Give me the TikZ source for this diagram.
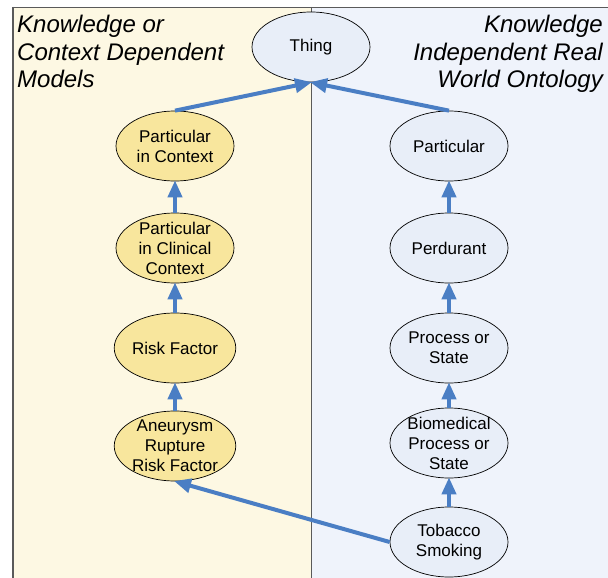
\documentclass[tikz,border=0pt]{standalone}
\usepackage{fontspec}
\setmainfont{Liberation Sans}
\usetikzlibrary{shapes.geometric,arrows.meta}
\definecolor{leftbg}{RGB}{253,248,227}
\definecolor{rightbg}{RGB}{239,243,251}
\definecolor{yelfill}{RGB}{248,230,157}
\definecolor{bluefill}{RGB}{232,238,248}
\definecolor{arrblue}{RGB}{74,126,196}
\definecolor{framegray}{RGB}{90,90,90}
\tikzset{
  onto/.style={ellipse, draw=black, line width=0.7pt, minimum width=118pt, minimum height=70pt,
    inner xsep=0pt, inner ysep=-8pt, align=center, font=\fontsize{17}{20}\selectfont},
  yel/.style={onto, fill=yelfill},
  blu/.style={onto, fill=bluefill},
  arr/.style={draw=arrblue, line width=4pt, -{Triangle[length=17pt,width=14pt]}, shorten >=-1pt},
  paneltitle/.style={inner sep=0pt, font=\fontsize{24}{27.5}\selectfont\itshape}
}
\begin{document}
\begin{tikzpicture}[x=1pt,y=-1pt]
\useasboundingbox (0,0) rectangle (608,578);
\fill[leftbg] (13,7) rectangle (311,578);
\fill[rightbg] (311,7) rectangle (608,578);
\draw[framegray, line width=0.8pt] (13,7) -- (608,7);
\draw[framegray, line width=1.8pt] (13,7) -- (13,578);
\draw[framegray, line width=0.8pt] (311,7) -- (311,578);

\node[paneltitle, anchor=north west, align=left] (lt) at (17,15) {Knowledge or\\Context Dependent\\Models};
\node[paneltitle, anchor=north east, align=right] (rt) at (603,15) {Knowledge\\Independent Real\\World Ontology};

\node[blu] (thing) at (311,47) {Thing};

\node[yel] (pic) at (175,146) {Particular\\in Context};
\node[yel] (pcc) at (175,248) {Particular\\in Clinical\\Context};
\node[yel] (risk) at (175,348) {Risk Factor};
\node[yel] (aneu) at (175,446) {Aneurysm\\Rupture\\Risk Factor};

\node[blu] (part) at (449,146) {Particular};
\node[blu] (perd) at (449,248) {Perdurant};
\node[blu] (proc) at (449,348) {Process or\\State};
\node[blu] (bio) at (449,443) {Biomedical\\Process or\\State};
\node[blu] (tob) at (449,542) {Tobacco\\Smoking};

\draw[arr] (pic.north) -- (thing.south);
\draw[arr] (part.north) -- (thing.south);
\draw[arr] (pcc.north) -- (pic.south);
\draw[arr] (risk.north) -- (pcc.south);
\draw[arr] (aneu.north) -- (risk.south);
\draw[arr] (perd.north) -- (part.south);
\draw[arr] (proc.north) -- (perd.south);
\draw[arr] (bio.north) -- (proc.south);
\draw[arr] (tob.north) -- (bio.south);
\draw[arr] (tob.west) -- (aneu.south);
\end{tikzpicture}
\end{document}
